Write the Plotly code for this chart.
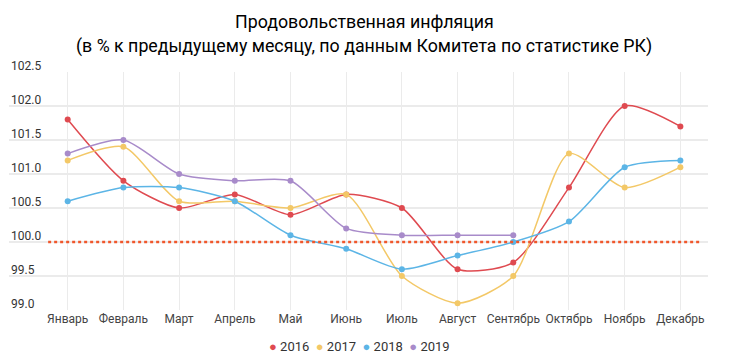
import plotly.graph_objects as go

months = ["Январь", "Февраль", "Март", "Апрель", "Май", "Июнь", "Июль",
          "Август", "Сентябрь", "Октябрь", "Ноябрь", "Декабрь"]
v2016 = [101.8, 100.9, 100.5, 100.7, 100.4, 100.7, 100.5, 99.6, 99.7, 100.8, 102.0, 101.7]
v2017 = [101.2, 101.4, 100.6, 100.6, 100.5, 100.7, 99.5, 99.1, 99.5, 101.3, 100.8, 101.1]
v2018 = [100.6, 100.8, 100.8, 100.6, 100.1, 99.9, 99.6, 99.8, 100.0, 100.3, 101.1, 101.2]
v2019 = [101.3, 101.5, 101.0, 100.9, 100.9, 100.2, 100.1, 100.1, 100.1]
years = ["2016", "2017", "2018", "2019"]
colors = ["#df4a50", "#f3c867", "#5cb5e6", "#a88bca"]
ytick_vals = [99.0, 99.5, 100.0, 100.5, 101.0, 101.5, 102.0, 102.5]
ytick_text = ["99.0", "99.5", "100.0", "100.5", "101.0", "101.5", "102.0", "102.5"]
baseline = 100.0

fig = go.Figure()
for name, vals, col in zip(years, [v2016, v2017, v2018, v2019], colors):
    fig.add_trace(go.Scatter(
        x=months[:len(vals)], y=vals, name=name, mode="lines+markers",
        line=dict(color=col, width=1.5, shape="spline", smoothing=0.7),
        marker=dict(color=col, size=6), showlegend=False,
    ))

fig.add_shape(type="line", xref="paper", yref="y", x0=0.056, x1=0.991,
              y0=baseline, y1=baseline,
              line=dict(color="#f0572c", width=2.5, dash="dot"), layer="above")

# y tick labels placed above gridlines at the left edge
for v, t in zip(ytick_vals, ytick_text):
    fig.add_annotation(text=t, xref="paper", yref="y", x=0, y=v, xanchor="left",
                       yanchor="middle", yshift=6, showarrow=False,
                       font=dict(family="Roboto", size=12, color="#333"))

# title (two lines)
fig.add_annotation(text="Продовольственная инфляция", xref="paper", yref="paper",
                   x=0.509, y=1, yshift=51, yanchor="middle", showarrow=False,
                   font=dict(family="Roboto", size=17.8, color="#000"))
fig.add_annotation(text="(в % к предыдущему месяцу, по данным Комитета по статистике РК)",
                   xref="paper", yref="paper", x=0.508, y=1, yshift=26, yanchor="middle",
                   showarrow=False,
                   font=dict(family="Roboto", size=17.8, color="#000"))

# legend: coloured dots + year labels
legend_text = "  ".join(
    f"<span style='color:{c}'>●</span> {y}" for y, c in zip(years, colors))
fig.add_annotation(text=legend_text, xref="paper", yref="paper", x=0.502, y=0,
                   yshift=-36, xanchor="center", yanchor="middle", showarrow=False,
                   font=dict(family="Roboto", size=13, color="#333"))

fig.update_layout(
    width=730, height=360,
    margin=dict(l=9, r=22, t=72, b=50, autoexpand=False),
    paper_bgcolor="white", plot_bgcolor="white",
    font=dict(family="Roboto", size=12, color="#333"),
    showlegend=False,
    xaxis=dict(type="category", categoryorder="array", categoryarray=months,
               range=[-1.054, 11.496], showgrid=True, gridcolor="#ebebeb",
               zeroline=False, showline=False, ticks="",
               tickfont=dict(size=12, color="#444")),
    yaxis=dict(range=[99.0, 102.5], tickvals=ytick_vals, showticklabels=False,
               showgrid=True, gridcolor="#ebebeb",
               gridwidth=1.5, zeroline=False, showline=False, ticks=""),
)

fig.write_html("out.html", config={"displayModeBar": False},
               post_script="document.body.style.margin='0';")
